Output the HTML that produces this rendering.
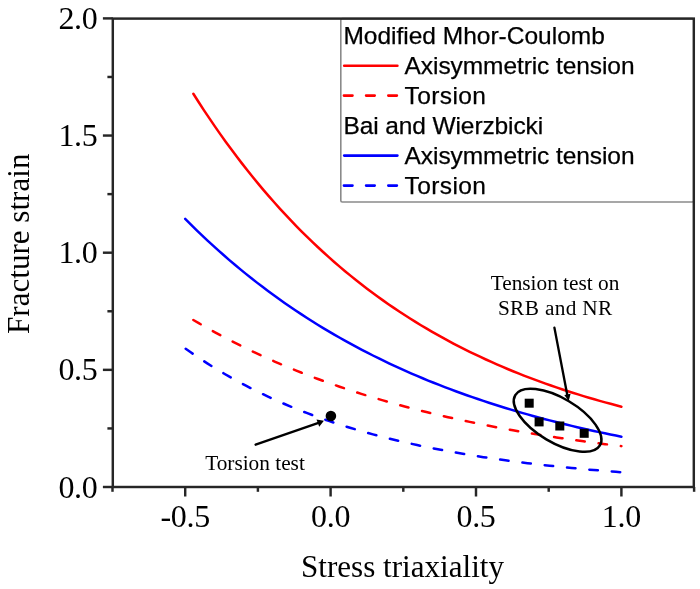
<!DOCTYPE html>
<html><head><meta charset="utf-8"><style>
html,body{margin:0;padding:0;background:#fff;}
svg{display:block;filter:blur(0.35px);}
.serif{font-family:"Liberation Serif",serif;}
.sans{font-family:"Liberation Sans",sans-serif;}
</style></head><body>
<svg width="700" height="589" viewBox="0 0 700 589">
<rect width="700" height="589" fill="#fff"/>
<path d="M193.34,93.77 L198.76,102.26 L204.18,110.57 L209.60,118.68 L215.02,126.61 L220.43,134.36 L225.85,141.93 L231.27,149.33 L236.69,156.56 L242.11,163.63 L247.53,170.54 L252.95,177.29 L258.36,183.89 L263.78,190.33 L269.20,196.63 L274.62,202.79 L280.04,208.81 L285.46,214.69 L290.87,220.43 L296.29,226.05 L301.71,231.54 L307.13,236.90 L312.55,242.14 L317.97,247.26 L323.39,252.27 L328.80,257.16 L334.22,261.94 L339.64,266.61 L345.06,271.18 L350.48,275.64 L355.90,280.00 L361.31,284.26 L366.73,288.43 L372.15,292.49 L377.57,296.47 L382.99,300.36 L388.41,304.16 L393.83,307.87 L399.24,311.50 L404.66,315.04 L410.08,318.51 L415.50,321.89 L420.92,325.20 L426.34,328.43 L431.75,331.59 L437.17,334.68 L442.59,337.70 L448.01,340.65 L453.43,343.53 L458.85,346.35 L464.26,349.10 L469.68,351.79 L475.10,354.42 L480.52,356.99 L485.94,359.50 L491.36,361.95 L496.78,364.35 L502.19,366.69 L507.61,368.98 L513.03,371.22 L518.45,373.41 L523.87,375.55 L529.29,377.63 L534.70,379.68 L540.12,381.67 L545.54,383.62 L550.96,385.52 L556.38,387.39 L561.80,389.21 L567.22,390.98 L572.63,392.72 L578.05,394.42 L583.47,396.08 L588.89,397.70 L594.31,399.29 L599.73,400.83 L605.14,402.35 L610.56,403.83 L615.98,405.27 L621.40,406.69" stroke="#ff0000" stroke-width="2.5" fill="none" stroke-linecap="round" stroke-linejoin="round"/>
<path d="M185.20,218.84 L190.72,224.38 L196.24,229.80 L201.76,235.11 L207.29,240.32 L212.81,245.42 L218.33,250.41 L223.85,255.30 L229.37,260.09 L234.89,264.79 L240.42,269.39 L245.94,273.89 L251.46,278.30 L256.98,282.62 L262.50,286.86 L268.02,291.00 L273.54,295.07 L279.07,299.04 L284.59,302.94 L290.11,306.76 L295.63,310.50 L301.15,314.16 L306.67,317.75 L312.19,321.27 L317.72,324.71 L323.24,328.08 L328.76,331.39 L334.28,334.62 L339.80,337.79 L345.32,340.90 L350.85,343.94 L356.37,346.92 L361.89,349.84 L367.41,352.70 L372.93,355.50 L378.45,358.24 L383.97,360.93 L389.50,363.56 L395.02,366.14 L400.54,368.66 L406.06,371.14 L411.58,373.56 L417.10,375.93 L422.63,378.26 L428.15,380.54 L433.67,382.77 L439.19,384.95 L444.71,387.09 L450.23,389.19 L455.75,391.24 L461.28,393.26 L466.80,395.23 L472.32,397.16 L477.84,399.05 L483.36,400.90 L488.88,402.72 L494.41,404.49 L499.93,406.23 L505.45,407.94 L510.97,409.61 L516.49,411.25 L522.01,412.85 L527.53,414.42 L533.06,415.96 L538.58,417.47 L544.10,418.94 L549.62,420.39 L555.14,421.80 L560.66,423.19 L566.18,424.55 L571.71,425.88 L577.23,427.18 L582.75,428.46 L588.27,429.71 L593.79,430.94 L599.31,432.14 L604.84,433.31 L610.36,434.47 L615.88,435.59 L621.40,436.70" stroke="#0000ff" stroke-width="2.5" fill="none" stroke-linecap="round" stroke-linejoin="round"/>
<path d="M193.34,320.00 L198.76,323.18 L204.18,326.29 L209.60,329.35 L215.02,332.34 L220.43,335.27 L225.85,338.15 L231.27,340.96 L236.69,343.72 L242.11,346.42 L247.53,349.07 L252.95,351.66 L258.36,354.20 L263.78,356.70 L269.20,359.14 L274.62,361.53 L280.04,363.87 L285.46,366.17 L290.87,368.41 L296.29,370.62 L301.71,372.78 L307.13,374.89 L312.55,376.97 L317.97,379.00 L323.39,380.99 L328.80,382.94 L334.22,384.85 L339.64,386.72 L345.06,388.55 L350.48,390.35 L355.90,392.11 L361.31,393.84 L366.73,395.53 L372.15,397.19 L377.57,398.81 L382.99,400.40 L388.41,401.96 L393.83,403.48 L399.24,404.98 L404.66,406.45 L410.08,407.88 L415.50,409.29 L420.92,410.67 L426.34,412.02 L431.75,413.34 L437.17,414.64 L442.59,415.91 L448.01,417.16 L453.43,418.38 L458.85,419.57 L464.26,420.74 L469.68,421.89 L475.10,423.01 L480.52,424.12 L485.94,425.20 L491.36,426.25 L496.78,427.29 L502.19,428.30 L507.61,429.30 L513.03,430.27 L518.45,431.23 L523.87,432.17 L529.29,433.08 L534.70,433.98 L540.12,434.86 L545.54,435.72 L550.96,436.57 L556.38,437.40 L561.80,438.21 L567.22,439.00 L572.63,439.78 L578.05,440.55 L583.47,441.29 L588.89,442.03 L594.31,442.74 L599.73,443.45 L605.14,444.14 L610.56,444.81 L615.98,445.47 L621.40,446.12" stroke="#ff0000" stroke-width="2.5" fill="none" stroke-linecap="round" stroke-linejoin="round" stroke-dasharray="8.5 13.95" stroke-dashoffset="0"/>
<path d="M185.20,348.43 L190.72,352.32 L196.24,356.10 L201.76,359.78 L207.29,363.35 L212.81,366.82 L218.33,370.20 L223.85,373.48 L229.37,376.66 L234.89,379.76 L240.42,382.77 L245.94,385.70 L251.46,388.54 L256.98,391.30 L262.50,393.99 L268.02,396.60 L273.54,399.14 L279.07,401.60 L284.59,404.00 L290.11,406.33 L295.63,408.59 L301.15,410.79 L306.67,412.93 L312.19,415.00 L317.72,417.02 L323.24,418.98 L328.76,420.89 L334.28,422.75 L339.80,424.55 L345.32,426.30 L350.85,428.00 L356.37,429.65 L361.89,431.26 L367.41,432.82 L372.93,434.34 L378.45,435.81 L383.97,437.25 L389.50,438.64 L395.02,439.99 L400.54,441.31 L406.06,442.59 L411.58,443.83 L417.10,445.04 L422.63,446.21 L428.15,447.35 L433.67,448.46 L439.19,449.54 L444.71,450.59 L450.23,451.61 L455.75,452.59 L461.28,453.56 L466.80,454.49 L472.32,455.40 L477.84,456.28 L483.36,457.14 L488.88,457.97 L494.41,458.78 L499.93,459.57 L505.45,460.33 L510.97,461.08 L516.49,461.80 L522.01,462.50 L527.53,463.19 L533.06,463.85 L538.58,464.49 L544.10,465.12 L549.62,465.73 L555.14,466.32 L560.66,466.90 L566.18,467.46 L571.71,468.00 L577.23,468.53 L582.75,469.04 L588.27,469.54 L593.79,470.02 L599.31,470.49 L604.84,470.95 L610.36,471.40 L615.88,471.83 L621.40,472.25" stroke="#0000ff" stroke-width="2.5" fill="none" stroke-linecap="round" stroke-linejoin="round" stroke-dasharray="8.5 13.95" stroke-dashoffset="-0.6"/>
<!-- legend -->
<rect x="340.8" y="18.6" width="353" height="183.4" rx="1.5" fill="#fff" stroke="#8a8a8a" stroke-width="1.6"/>
<g class="sans" font-size="24.5" fill="#000" stroke="#000" stroke-width="0.25">
<text x="343.4" y="44">Modified Mhor-Coulomb</text>
<text x="404.6" y="74" letter-spacing="-0.08">Axisymmetric tension</text>
<text x="404.6" y="104" letter-spacing="0.4">Torsion</text>
<text x="343.4" y="134" letter-spacing="-0.1">Bai and Wierzbicki</text>
<text x="404.6" y="164" letter-spacing="-0.08">Axisymmetric tension</text>
<text x="404.6" y="194" letter-spacing="0.4">Torsion</text>
</g>
<g stroke-width="2.6" stroke-linecap="round" fill="none">
<line x1="344.2" y1="65.8" x2="397.4" y2="65.8" stroke="#ff0000"/>
<line x1="343.9" y1="95.6" x2="397.4" y2="95.6" stroke="#ff0000" stroke-dasharray="8.6 13.6"/>
<line x1="344.2" y1="155.6" x2="397.4" y2="155.6" stroke="#0000ff"/>
<line x1="343.9" y1="185.6" x2="397.4" y2="185.6" stroke="#0000ff" stroke-dasharray="8.6 13.6"/>
</g>
<!-- frame -->
<g stroke="#262626" stroke-width="2.45" fill="none" stroke-linecap="butt">
<rect x="112.8" y="18.6" width="581" height="468.4"/>
<line x1="185.20" y1="487" x2="185.20" y2="496.5"/>
<line x1="330.60" y1="487" x2="330.60" y2="496.5"/>
<line x1="476.00" y1="487" x2="476.00" y2="496.5"/>
<line x1="621.40" y1="487" x2="621.40" y2="496.5"/>
<line x1="112.50" y1="487" x2="112.50" y2="491.8"/>
<line x1="257.90" y1="487" x2="257.90" y2="491.8"/>
<line x1="403.30" y1="487" x2="403.30" y2="491.8"/>
<line x1="548.70" y1="487" x2="548.70" y2="491.8"/>
<line x1="694.10" y1="487" x2="694.10" y2="491.8"/>
<line x1="102.9" y1="487.00" x2="112.8" y2="487.00"/>
<line x1="102.9" y1="369.85" x2="112.8" y2="369.85"/>
<line x1="102.9" y1="252.70" x2="112.8" y2="252.70"/>
<line x1="102.9" y1="135.55" x2="112.8" y2="135.55"/>
<line x1="102.9" y1="18.40" x2="112.8" y2="18.40"/>
<line x1="107.4" y1="428.43" x2="112.8" y2="428.43"/>
<line x1="107.4" y1="311.27" x2="112.8" y2="311.27"/>
<line x1="107.4" y1="194.12" x2="112.8" y2="194.12"/>
<line x1="107.4" y1="76.97" x2="112.8" y2="76.97"/>
</g>
<g class="serif" font-size="32" letter-spacing="-0.3" fill="#000">
<text x="97.5" y="497.60" text-anchor="end">0.0</text>
<text x="97.5" y="380.45" text-anchor="end">0.5</text>
<text x="97.5" y="263.30" text-anchor="end">1.0</text>
<text x="97.5" y="146.15" text-anchor="end">1.5</text>
<text x="97.5" y="29.00" text-anchor="end">2.0</text>
<text x="185.20" y="527.3" text-anchor="middle">-0.5</text>
<text x="330.60" y="527.3" text-anchor="middle">0.0</text>
<text x="476.00" y="527.3" text-anchor="middle">0.5</text>
<text x="621.40" y="527.3" text-anchor="middle">1.0</text>
</g>
<text class="serif" font-size="32.4" fill="#000" transform="translate(29.3,334) rotate(-90) scale(0.96,1)">Fracture strain</text>
<text class="serif" font-size="32.4" fill="#000" transform="translate(301,576.6) scale(0.96,1)">Stress triaxiality</text>
<!-- annotations -->
<g class="serif" font-size="21.3" fill="#000" text-anchor="middle">
<text x="555" y="290">Tension test on</text>
<text x="555.3" y="315" letter-spacing="0.35">SRB and NR</text>
<text x="255" y="469.7">Torsion test</text>
</g>
<ellipse cx="557.6" cy="420.3" rx="49.2" ry="22.1" transform="rotate(30.7 557.6 420.3)" fill="none" stroke="#000" stroke-width="2.5"/>
<g fill="#000">
<rect x="524.7" y="398.7" width="9" height="9"/>
<rect x="534.6" y="417.4" width="9" height="9"/>
<rect x="555.3" y="421.5" width="9" height="9"/>
<rect x="579.7" y="428.8" width="9" height="9"/>
<circle cx="330.9" cy="416" r="5.3"/>
</g>
<g stroke="#000" stroke-width="2.35" fill="none" stroke-linecap="round">
<line x1="255.6" y1="444.7" x2="318.5" y2="422.8"/>
<line x1="554.4" y1="327.6" x2="567.3" y2="395"/>
</g>
<g fill="#000">
<polygon points="323.9,420.8 316.5,419.4 319.2,426.8"/>
<polygon points="568.7,401 564.3,394.9 570.6,393.7"/>
</g>
</svg>
</body></html>
